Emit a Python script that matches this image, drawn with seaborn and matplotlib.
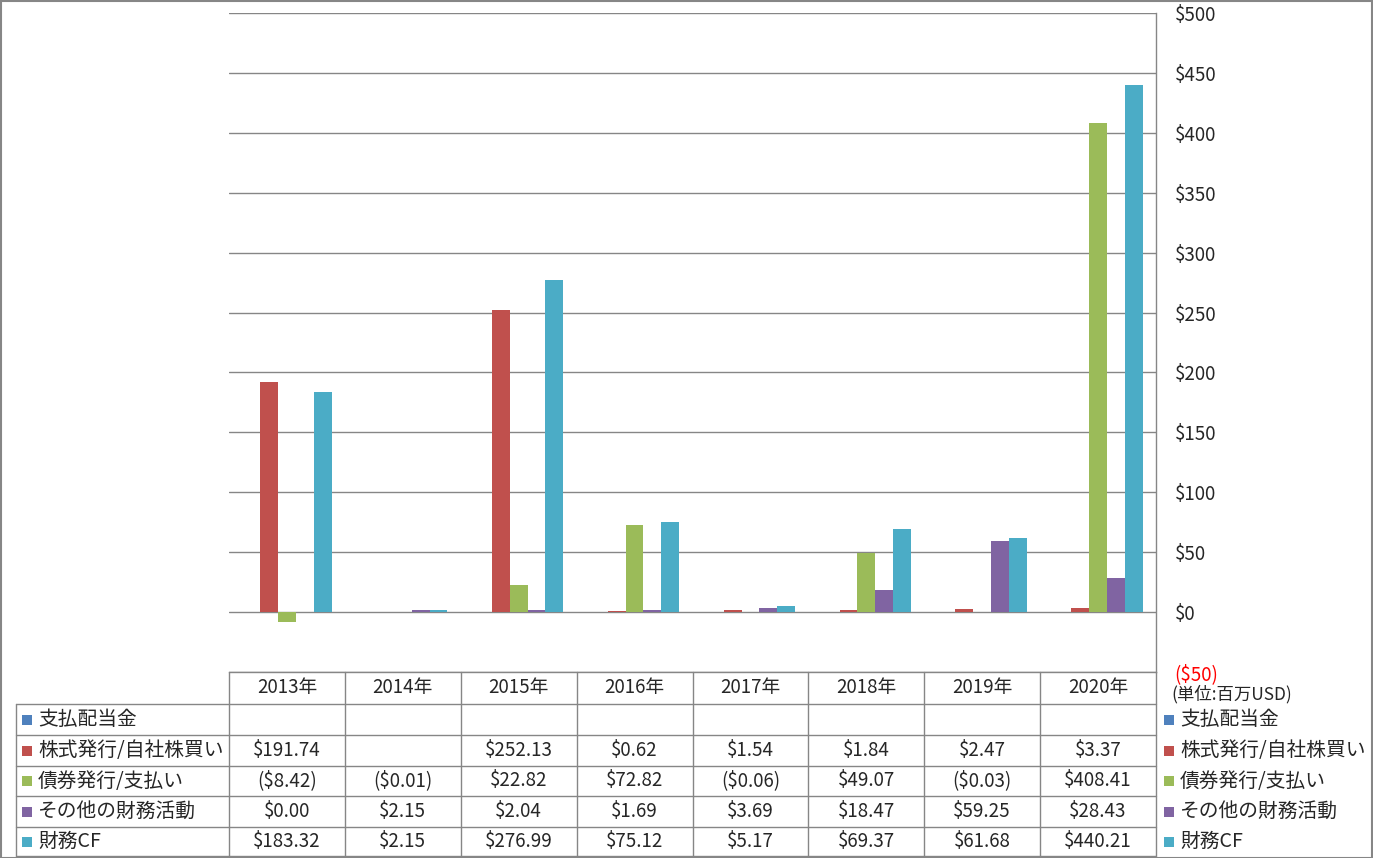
import numpy as np
import pandas as pd
import matplotlib.pyplot as plt
import seaborn as sns
from matplotlib.lines import Line2D
from matplotlib.patches import Rectangle
from matplotlib.transforms import blended_transform_factory

sns.set_style("white")
plt.rcParams['font.family'] = ['Noto Sans CJK JP', 'DejaVu Sans']

# データ (単位: 百万USD)
years = ['2013年', '2014年', '2015年', '2016年', '2017年', '2018年', '2019年', '2020年']
series = ['支払配当金', '株式発行/自社株買い', '債券発行/支払い', 'その他の財務活動', '財務CF']
dividends = [np.nan] * 8
stock = [191.74, np.nan, 252.13, 0.62, 1.54, 1.84, 2.47, 3.37]
debt = [-8.42, -0.01, 22.82, 72.82, -0.06, 49.07, -0.03, 408.41]
other = [0.00, 2.15, 2.04, 1.69, 3.69, 18.47, 59.25, 28.43]
fin_cf = [183.32, 2.15, 276.99, 75.12, 5.17, 69.37, 61.68, 440.21]
colors = ['#4F81BD', '#C0504D', '#9BBB59', '#8064A2', '#4BACC6']
yticks = list(range(-50, 501, 50))

values = [dividends, stock, debt, other, fin_cf]
df = pd.DataFrame([
    {'year': y, 'series': s, 'value': v}
    for s, vals in zip(series, values)
    for y, v in zip(years, vals)
])

W, H = 1373, 858
GRAY = '#868686'
FS = 13.5       # 数値
FS_LABEL = 14.2  # 系列名


def fy(py):
    # ピクセル(上から) -> figure座標
    return 1 - py / H


def fx(px):
    return px / W


def fmt(v):
    if pd.isna(v):
        return ''
    if v < 0:
        return f'(${-v:,.2f})'
    return f'${v:,.2f}'


fig = plt.figure(figsize=(W / 100, H / 100), dpi=100)
ax = fig.add_axes([fx(229), fy(672), fx(1156) - fx(229), fy(13) - fy(672)])

sns.barplot(data=df, x='year', y='value', hue='series', order=years,
            hue_order=series, palette=colors, width=0.77, saturation=1,
            errorbar=None, legend=False, linewidth=0, ax=ax)

ax.set_xlim(-0.5, len(years) - 0.5)
ax.set_ylim(-50, 500)
ax.yaxis.tick_right()
ax.set_yticks(yticks, [f'(${-t})' if t < 0 else f'${t}' for t in yticks])
ax.get_yticklabels()[0].set_color('#FF0000')
ax.tick_params(axis='y', length=0, pad=13.5, labelsize=FS)
ax.set_xticks([])
ax.set_xlabel('')
ax.set_ylabel('')
ax.yaxis.grid(True, color=GRAY, lw=1)
ax.set_axisbelow(True)
for side in ['top', 'left']:
    ax.spines[side].set_visible(False)
for side in ['right', 'bottom']:
    ax.spines[side].set_color(GRAY)
    ax.spines[side].set_linewidth(1)

# データテーブル
tr = blended_transform_factory(ax.transData, fig.transFigure)
row_lines = [704, 735, 766, 796, 827, 856]
for py in row_lines:
    fig.add_artist(Line2D([fx(16), fx(1156)], [fy(py), fy(py)], color=GRAY, lw=1))
fig.add_artist(Line2D([fx(16), fx(16)], [fy(704), fy(856)], color=GRAY, lw=1))
for i in range(len(years) + 1):
    fig.add_artist(Line2D([i - 0.5, i - 0.5], [fy(672), fy(856)], color=GRAY, lw=1,
                          transform=tr))

for i, y in enumerate(years):
    fig.text(i, fy(688), y, transform=tr, ha='center', va='center', fontsize=FS)

for r, (s, vals, c) in enumerate(zip(series, values, colors)):
    yc = (row_lines[r] + row_lines[r + 1]) / 2
    for px_sq, px_txt in [(22, 38), (1164, 1180)]:
        fig.add_artist(Rectangle((fx(px_sq), fy(yc + 5)), 10 / W, 10 / H, color=c, lw=0))
        fig.text(fx(px_txt), fy(yc), s, ha='left', va='center', fontsize=FS_LABEL)
    for i, v in enumerate(vals):
        fig.text(i, fy(yc), fmt(v), transform=tr, ha='center', va='center', fontsize=FS)

fig.text(fx(1171), fy(694), '(単位:百万USD)', ha='left', va='center', fontsize=12.5)

# 外枠
fig.add_artist(Rectangle((0.5 / W, 0.5 / H), 1 - 1.5 / W, 1 - 1.5 / H, fill=False,
                         edgecolor=GRAY, lw=1.5))

fig.savefig('out.png', dpi=100)
